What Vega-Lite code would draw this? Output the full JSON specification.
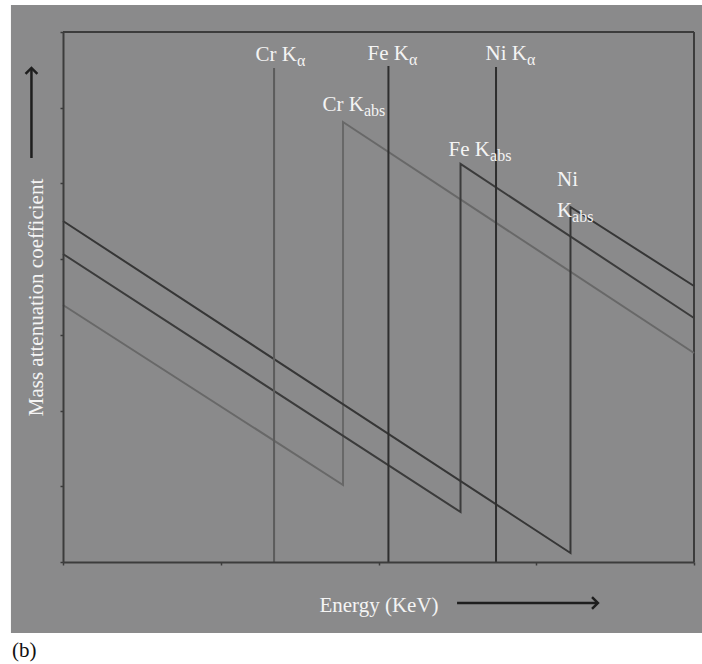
{
  "$schema": "https://vega.github.io/schema/vega-lite/v6.json",
  "width": 631,
  "height": 530,
  "autosize": {"type": "none"},
  "padding": {"left": 63, "top": 32, "right": 8, "bottom": 102},
  "background": "white",
  "config": {
    "view": {"stroke": null},
    "axis": {
      "grid": false,
      "labels": false,
      "domainColor": "#3c3c3c",
      "domainWidth": 2,
      "tickColor": "#3c3c3c",
      "tickWidth": 1.5,
      "tickSize": 3,
      "titleFont": "Liberation Serif",
      "titleFontSize": 21,
      "titleFontWeight": "normal",
      "titleColor": "#f4f4f4",
      "titleBaseline": "alphabetic"
    },
    "text": {"font": "Liberation Serif", "color": "#f4f4f4"}
  },
  "datasets": {
    "panel": [{"x": -0.33, "x2": 4.06, "y": -0.938, "y2": 7.357}],
    "frame": [
      {"x": 0, "y": 7, "x2": 4, "y2": 7},
      {"x": 4, "y": 0, "x2": 4, "y2": 7}
    ],
    "curves": [
      {"element": "Cr", "i": 0, "x": 0, "y": 3.394},
      {"element": "Cr", "i": 1, "x": 1.775, "y": 1.017},
      {"element": "Cr", "i": 2, "x": 1.775, "y": 5.811},
      {"element": "Cr", "i": 3, "x": 4, "y": 2.76},
      {"element": "Fe", "i": 0, "x": 0, "y": 4.068},
      {"element": "Fe", "i": 1, "x": 2.52, "y": 0.66},
      {"element": "Fe", "i": 2, "x": 2.52, "y": 5.257},
      {"element": "Fe", "i": 3, "x": 4, "y": 3.223},
      {"element": "Ni", "i": 0, "x": 0, "y": 4.504},
      {"element": "Ni", "i": 1, "x": 3.217, "y": 0.119},
      {"element": "Ni", "i": 2, "x": 3.217, "y": 4.689},
      {"element": "Ni", "i": 3, "x": 4, "y": 3.645}
    ],
    "kalpha": [
      {"element": "Cr", "x": 1.338, "bottom": 0, "top": 6.525},
      {"element": "Fe", "x": 2.063, "bottom": 0, "top": 6.55},
      {"element": "Ni", "x": 2.745, "bottom": 0, "top": 6.537}
    ],
    "labels": [
      {"main": "Cr K", "sub": "α", "x": 1.483, "y": 6.617},
      {"main": "Fe K", "sub": "α", "x": 2.193, "y": 6.63},
      {"main": "Ni K", "sub": "α", "x": 2.941, "y": 6.63},
      {"main": "Cr K", "sub": "abs", "x": 1.908, "y": 5.957},
      {"main": "Fe K", "sub": "abs", "x": 2.707, "y": 5.362},
      {"main": "Ni", "sub": "", "x": 3.265, "y": 4.966},
      {"main": "K", "sub": "abs", "x": 3.227, "y": 4.557}
    ],
    "arrows": [
      {"dir": "up", "x": -0.2, "y": 5.336, "x2": -0.2, "y2": 6.525},
      {"dir": "right", "x": 2.498, "y": -0.5415, "x2": 3.391, "y2": -0.5415}
    ],
    "caption": [{"text": "(b)", "x": -0.323, "y": -1.255}]
  },
  "layer": [
    {
      "data": {"name": "panel"},
      "mark": {"type": "rect", "color": "#8a8a8b"},
      "encoding": {
        "x": {"field": "x", "type": "quantitative", "scale": {"domain": [0, 4], "nice": false, "zero": false},
              "axis": {"values": [0, 1, 2, 3, 4], "titlePadding": 46, "zindex": 2}, "title": "Energy (KeV)"},
        "x2": {"field": "x2"},
        "y": {"field": "y", "type": "quantitative", "scale": {"domain": [0, 7], "nice": false, "zero": false},
              "axis": {"values": [0, 1, 2, 3, 4, 5, 6, 7], "titlePadding": 17, "zindex": 2}, "title": "Mass attenuation coefficient"},
        "y2": {"field": "y2"}
      }
    },
    {
      "data": {"name": "frame"},
      "mark": {"type": "rule", "color": "#3c3c3c", "strokeWidth": 2},
      "encoding": {
        "x": {"field": "x", "type": "quantitative", "title": "Energy (KeV)"},
        "x2": {"field": "x2"},
        "y": {"field": "y", "type": "quantitative", "title": "Mass attenuation coefficient"},
        "y2": {"field": "y2"}
      }
    },
    {
      "data": {"name": "curves"},
      "mark": {"type": "line", "strokeWidth": 2},
      "encoding": {
        "x": {"field": "x", "type": "quantitative", "title": "Energy (KeV)"},
        "y": {"field": "y", "type": "quantitative", "title": "Mass attenuation coefficient"},
        "order": {"field": "i", "type": "quantitative"},
        "color": {"field": "element", "type": "nominal",
                  "scale": {"domain": ["Cr", "Fe", "Ni"], "range": ["#686868", "#3b3b3b", "#363636"]},
                  "legend": null}
      }
    },
    {
      "data": {"name": "kalpha"},
      "mark": {"type": "rule", "strokeWidth": 2},
      "encoding": {
        "x": {"field": "x", "type": "quantitative", "title": "Energy (KeV)"},
        "y": {"field": "bottom", "type": "quantitative", "title": "Mass attenuation coefficient"},
        "y2": {"field": "top"},
        "stroke": {"field": "element", "type": "nominal",
                   "scale": {"domain": ["Cr", "Fe", "Ni"], "range": ["#5c5c5c", "#2e2e2e", "#2e2e2e"]},
                   "legend": null}
      }
    },
    {
      "data": {"name": "labels"},
      "mark": {"type": "text", "align": "right", "baseline": "alphabetic", "fontSize": 21},
      "encoding": {
        "x": {"field": "x", "type": "quantitative", "title": "Energy (KeV)"},
        "y": {"field": "y", "type": "quantitative", "title": "Mass attenuation coefficient"},
        "text": {"field": "main", "type": "nominal"}
      }
    },
    {
      "data": {"name": "labels"},
      "mark": {"type": "text", "align": "left", "baseline": "alphabetic", "fontSize": 16, "dy": 5},
      "encoding": {
        "x": {"field": "x", "type": "quantitative", "title": "Energy (KeV)"},
        "y": {"field": "y", "type": "quantitative", "title": "Mass attenuation coefficient"},
        "text": {"field": "sub", "type": "nominal"}
      }
    },
    {
      "data": {"name": "arrows"},
      "mark": {"type": "rule", "color": "#1e1e1e", "strokeWidth": 2.5},
      "encoding": {
        "x": {"field": "x", "type": "quantitative", "title": "Energy (KeV)"},
        "x2": {"field": "x2"},
        "y": {"field": "y", "type": "quantitative", "title": "Mass attenuation coefficient"},
        "y2": {"field": "y2"}
      }
    },
    {
      "data": {"name": "arrows"},
      "transform": [{"filter": "datum.dir === 'up'"}],
      "mark": {"type": "point", "shape": "M-1,1L0,0L1,1", "filled": false, "size": 140, "color": "#1e1e1e", "strokeWidth": 2.5, "opacity": 1},
      "encoding": {
        "x": {"field": "x2", "type": "quantitative", "title": "Energy (KeV)"},
        "y": {"field": "y2", "type": "quantitative", "title": "Mass attenuation coefficient"}
      }
    },
    {
      "data": {"name": "arrows"},
      "transform": [{"filter": "datum.dir === 'right'"}],
      "mark": {"type": "point", "shape": "M-1,-1L0,0L-1,1", "filled": false, "size": 140, "color": "#1e1e1e", "strokeWidth": 2.5, "opacity": 1},
      "encoding": {
        "x": {"field": "x2", "type": "quantitative", "title": "Energy (KeV)"},
        "y": {"field": "y2", "type": "quantitative", "title": "Mass attenuation coefficient"}
      }
    },
    {
      "data": {"name": "caption"},
      "mark": {"type": "text", "align": "left", "baseline": "alphabetic", "fontSize": 21, "color": "#111111"},
      "encoding": {
        "x": {"field": "x", "type": "quantitative", "title": "Energy (KeV)"},
        "y": {"field": "y", "type": "quantitative", "title": "Mass attenuation coefficient"},
        "text": {"field": "text", "type": "nominal"}
      }
    }
  ]
}
